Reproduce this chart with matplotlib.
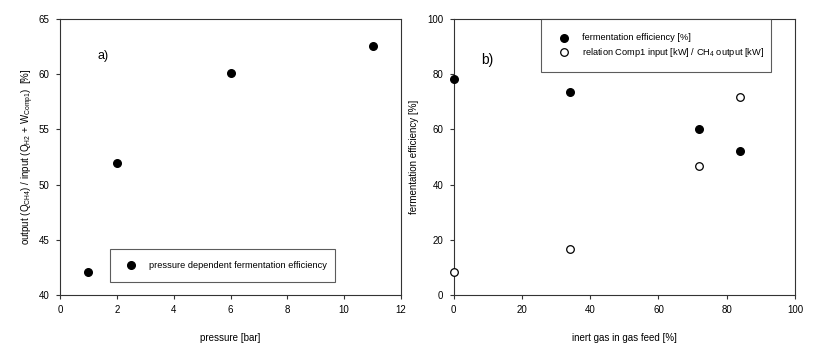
import matplotlib
matplotlib.use("Agg")
import matplotlib.pyplot as plt
from matplotlib.lines import Line2D

plt.rcParams['font.family'] = ['Liberation Sans', 'DejaVu Sans']
plt.rcParams['mathtext.fontset'] = 'custom'
plt.rcParams['mathtext.rm'] = 'Liberation Sans'

# Panel a)
pressure = [1, 2, 6, 11]
eff_a = [42.1, 52.0, 60.1, 62.6]

# Panel b)
inert = [0, 34, 72, 84]
ferm_eff = [78.3, 73.5, 60.1, 52.3]
comp_rel = [8.4, 16.6, 46.9, 71.7]

a_xticks = [0, 2, 4, 6, 8, 10, 12]
a_yticks = [40, 45, 50, 55, 60, 65]
b_xticks = [0, 20, 40, 60, 80, 100]
b_yticks = [0, 20, 40, 60, 80, 100]

W, H = 836, 357
X0a, X1a, X0b, X1b = 60, 401, 453.7, 795
YT, YB = 19.3, 294.7
AW, AH = X1a - X0a, YB - YT
BW = X1b - X0b

fig = plt.figure(figsize=(W/100, H/100), dpi=100)
ax1 = fig.add_axes([X0a/W, 1-YB/H, AW/W, AH/H])
ax2 = fig.add_axes([X0b/W, 1-YB/H, BW/W, AH/H])

fs = 7
lfs = 6.7
spine_col = '#333333'
for ax in (ax1, ax2):
    for s in ax.spines.values():
        s.set_color(spine_col)
        s.set_linewidth(0.8)
    ax.tick_params(direction='out', length=3, width=0.8, color=spine_col,
                   labelsize=fs, pad=4.5, top=False, right=False)

ax1.scatter(pressure, eff_a, s=30, color='black', zorder=3, clip_on=False)
ax1.set_xlim(0, 12)
ax1.set_ylim(40, 65)
ax1.set_xticks(a_xticks)
ax1.set_yticks(a_yticks)
ax1.set_xlabel('pressure [bar]', fontsize=fs, labelpad=13)
ax1.set_ylabel(r'output (Q$_{\mathrm{CH4}}$) / input (Q$_{\mathrm{H2}}$ + W$_{\mathrm{Comp1}}$)  [%]',
               fontsize=fs, labelpad=2)
ax1.text((97-X0a)/AW, 1-(56-YT)/AH, 'a)', transform=ax1.transAxes,
         fontsize=9, va='center', ha='left')

h1 = Line2D([], [], marker='o', color='black', linestyle='none', markersize=5.5)
leg1 = ax1.legend([h1], ['pressure dependent fermentation efficiency'],
                  loc='center left',
                  bbox_to_anchor=((110-X0a)/AW, 1-(283-YT)/AH,
                                  (335-110)/AW, (283-248)/AH),
                  mode='expand', fontsize=lfs, fancybox=False, frameon=True,
                  borderaxespad=0, handletextpad=0.9, borderpad=1.3)
leg1.get_frame().set_edgecolor(spine_col)
leg1.get_frame().set_linewidth(0.8)

ax2.scatter(inert, ferm_eff, s=30, color='black', zorder=3, clip_on=False,
            label='fermentation efficiency [%]')
ax2.scatter(inert, comp_rel, s=30, facecolor='white', edgecolor='black', linewidth=0.9,
            zorder=3, clip_on=False,
            label='relation Comp1 input [kW] / CH$_4$ output [kW]')
ax2.set_xlim(0, 100)
ax2.set_ylim(0, 100)
ax2.set_xticks(b_xticks)
ax2.set_yticks(b_yticks)
ax2.set_xlabel('inert gas in gas feed [%]', fontsize=fs, labelpad=13)
ax2.set_ylabel('fermentation efficiency [%]', fontsize=fs, labelpad=6)
ax2.text((481-X0b)/BW, 1-(60-YT)/AH, 'b)', transform=ax2.transAxes,
         fontsize=10, va='center', ha='left')
leg2 = ax2.legend(loc='upper left',
                  bbox_to_anchor=((541-X0b)/BW, 0, (771-541)/BW, 1.0),
                  mode='expand', fontsize=lfs, fancybox=False, frameon=True,
                  borderaxespad=0, handletextpad=0.9, borderpad=1.5, labelspacing=0.35)
leg2.get_frame().set_edgecolor(spine_col)
leg2.get_frame().set_linewidth(0.8)

fig.savefig('out.png', dpi=100)
